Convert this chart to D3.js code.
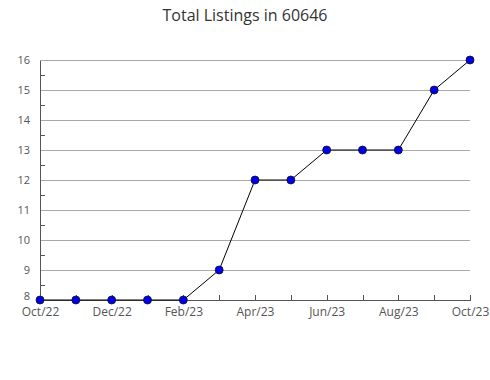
<!DOCTYPE html>
<html><head><meta charset="utf-8">
<script src="https://cdn.jsdelivr.net/npm/d3@7"></script>
<style>body{margin:0;background:#fff;}svg{display:block;font-family:"Open Sans",sans-serif;}</style>
</head><body>
<svg id="c" width="490" height="380"></svg>
<script>
const months = ["Oct/22","Nov/22","Dec/22","Jan/23","Feb/23","Mar/23","Apr/23","May/23","Jun/23","Jul/23","Aug/23","Sep/23","Oct/23"];
const listings = [8,8,8,8,8,9,12,12,13,13,13,15,16];
const xLabels = ["Oct/22","Dec/22","Feb/23","Apr/23","Jun/23","Aug/23","Oct/23"];
const yTicks = [8,9,10,11,12,13,14,15,16];
const yMinor = [8.5,9.5,10.5,11.5,12.5,13.5,14.5,15.5];

const svg = d3.select("#c");
const L = 40, R = 470, T = 60, B = 300;
const x = d3.scalePoint().domain(months).range([L, R]);
const y = d3.scaleLinear().domain([8,16]).range([B, T]);

svg.append("text").attr("x", 245).attr("y", 21).attr("text-anchor","middle")
  .attr("font-size", 16).attr("fill","#333").text("Total Listings in 60646");

// gridlines
svg.append("g").selectAll("line").data(yTicks.slice(1)).join("line")
  .attr("x1", L).attr("x2", R).attr("y1", d=>y(d)).attr("y2", d=>y(d))
  .attr("stroke","#aaa").attr("stroke-width",1).attr("shape-rendering","crispEdges");

// y axis
const yAxis = svg.append("g").attr("transform",`translate(${L},0)`)
  .call(d3.axisLeft(y).tickValues(yTicks).tickSize(0).tickPadding(10).tickFormat(d3.format("d")));
yAxis.select(".domain").attr("stroke","#555").attr("shape-rendering","crispEdges");
yAxis.selectAll("text").attr("font-size",11).attr("fill","#555").attr("font-family","Open Sans, sans-serif");
yAxis.selectAll(".tick").filter(d=>d===8).select("text").attr("dy","-0.05em");
svg.append("g").selectAll("line").data(yMinor).join("line")
  .attr("x1", L).attr("x2", L+5).attr("y1", d=>y(d)).attr("y2", d=>y(d))
  .attr("stroke","#555").attr("shape-rendering","crispEdges");

// x axis
const xAxis = svg.append("g").attr("transform",`translate(0,${B})`)
  .call(d3.axisBottom(x).tickSizeInner(-5).tickSizeOuter(0).tickPadding(7)
    .tickFormat(d => xLabels.includes(d) ? d : ""));
xAxis.select(".domain").attr("stroke","#555").attr("shape-rendering","crispEdges");
xAxis.selectAll(".tick line").attr("stroke","#555").attr("shape-rendering","crispEdges");
xAxis.selectAll("text").attr("font-size",12).attr("fill","#555").attr("font-family","Open Sans, sans-serif");

// line
svg.append("path").datum(listings)
  .attr("d", d3.line().x((d,i)=>x(months[i])).y(d=>y(d)))
  .attr("fill","none").attr("stroke","#000").attr("stroke-width",1);

svg.append("g").selectAll("circle").data(listings).join("circle")
  .attr("cx",(d,i)=>x(months[i])).attr("cy",d=>y(d)).attr("r",4)
  .attr("fill","#0000ee").attr("stroke","#111").attr("stroke-width",0.8);
</script>
</body></html>
